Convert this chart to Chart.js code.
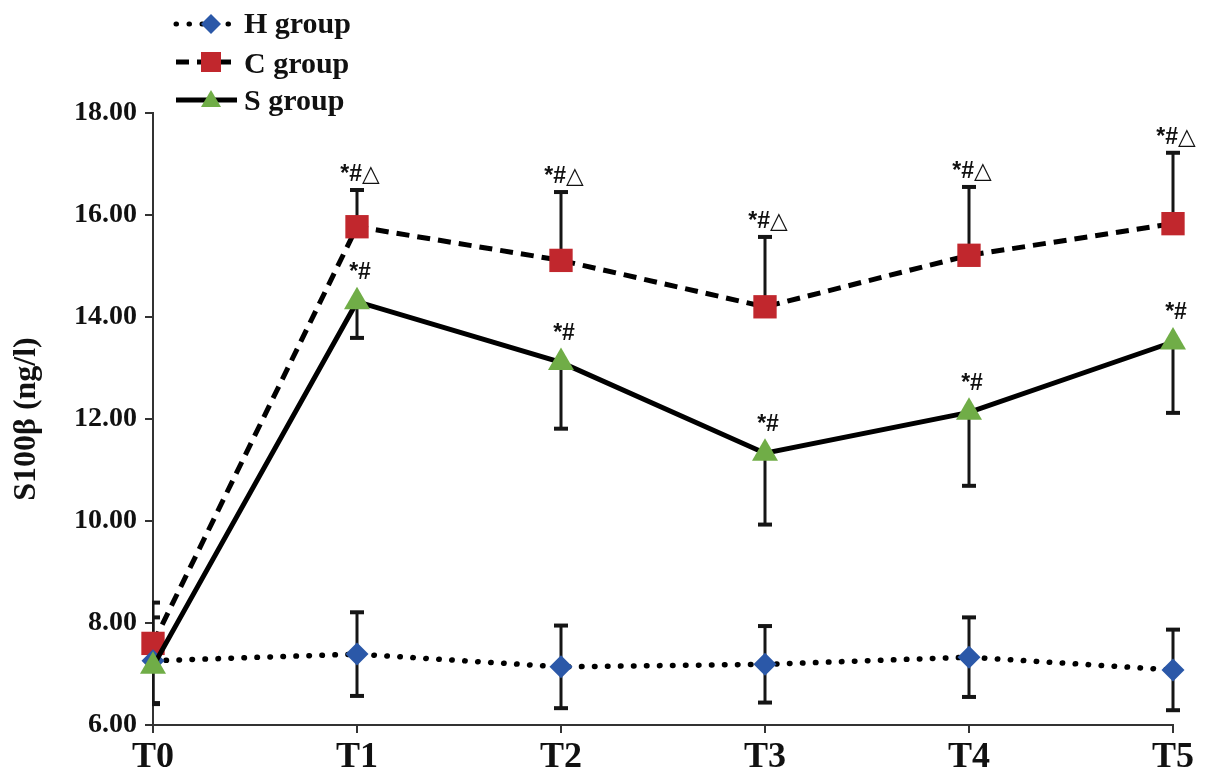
<!DOCTYPE html>
<html>
<head>
<meta charset="utf-8">
<title>S100β by group</title>
<script src="https://cdn.jsdelivr.net/npm/chart.js@4.4.1/dist/chart.umd.min.js"></script>
<style>
  body { margin: 0; background: #fff; }
  #wrap { width: 1205px; height: 782px; position: relative; }
</style>
</head>
<body>
<div id="wrap"><canvas id="s100"></canvas></div>
<script>
// time points and group values (mean, sd)
var times = ['T0', 'T1', 'T2', 'T3', 'T4', 'T5'];
var hMean = [7.26, 7.39, 7.14, 7.19, 7.33, 7.08];
var hSD   = [0.85, 0.82, 0.81, 0.75, 0.78, 0.79];
var cMean = [7.60, 15.77, 15.11, 14.20, 15.21, 15.83];
var cSD   = [0.80, 0.72, 1.34, 1.37, 1.34, 1.39];
var sMean = [7.15, 14.30, 13.11, 11.33, 12.13, 13.51];
var sSD   = [0.72, 0.71, 1.30, 1.40, 1.44, 1.39];
// significance marks
var cMarks = ['', '*#△', '*#△', '*#△', '*#△', '*#△'];
var sMarks = ['', '*#', '*#', '*#', '*#', '*#'];
var yMin = 6, yMax = 18, yStep = 2;

var serif = "'Liberation Serif', 'Times New Roman', serif";

// error bars, drawn under the markers
var errorBars = {
  id: 'errorBars',
  beforeDatasetsDraw: function(chart) {
    var ctx = chart.ctx, area = chart.chartArea, y = chart.scales.y;
    ctx.save();
    ctx.beginPath();
    ctx.rect(area.left - 1, 0, chart.width, chart.height);
    ctx.clip();
    ctx.strokeStyle = '#151515';
    chart.data.datasets.forEach(function(ds, di) {
      var meta = chart.getDatasetMeta(di);
      ds.errors.forEach(function(sd, i) {
        var pt = meta.data[i];
        var ends = [];
        if (ds.errorDir != 'down') ends.push(y.getPixelForValue(ds.data[i] + sd));
        if (ds.errorDir != 'up') ends.push(y.getPixelForValue(ds.data[i] - sd));
        ends.forEach(function(ey) {
          ctx.lineWidth = 3;
          ctx.beginPath();
          ctx.moveTo(pt.x, pt.y);
          ctx.lineTo(pt.x, ey);
          ctx.stroke();
          ctx.lineWidth = 4;
          ctx.beginPath();
          ctx.moveTo(pt.x - 7, ey);
          ctx.lineTo(pt.x + 7, ey);
          ctx.stroke();
        });
      });
    });
    ctx.restore();
  }
};

// *# / *#△ marks above points
var sigMarks = {
  id: 'sigMarks',
  afterDatasetsDraw: function(chart) {
    var ctx = chart.ctx, y = chart.scales.y;
    ctx.save();
    ctx.fillStyle = '#111';
    ctx.textAlign = 'center';
    ctx.textBaseline = 'middle';
    ctx.font = "bold 23px 'Liberation Sans', 'DejaVu Sans', sans-serif";
    chart.data.datasets.forEach(function(ds, di) {
      if (!ds.marks) return;
      var meta = chart.getDatasetMeta(di);
      ds.marks.forEach(function(m, i) {
        if (!m) return;
        var pt = meta.data[i];
        var ty;
        if (ds.markAt == 'error') ty = y.getPixelForValue(ds.data[i] + ds.errors[i]) - 15;
        else ty = pt.y - 29;
        ctx.fillText(m, pt.x + 3, ty);
      });
    });
    ctx.restore();
  }
};

function legendMarker(ctx, style, color, x, y) {
  ctx.fillStyle = color;
  ctx.beginPath();
  if (style == 'rectRot') {
    ctx.moveTo(x, y - 10); ctx.lineTo(x + 10, y); ctx.lineTo(x, y + 10); ctx.lineTo(x - 10, y);
  } else if (style == 'rect') {
    ctx.rect(x - 10, y - 10, 20, 20);
  } else {
    ctx.moveTo(x, y - 10); ctx.lineTo(x + 10, y + 7); ctx.lineTo(x - 10, y + 7);
  }
  ctx.closePath();
  ctx.fill();
}

// legend in the top-left corner, line + marker + label
var cornerLegend = {
  id: 'cornerLegend',
  afterDraw: function(chart) {
    var ctx = chart.ctx;
    var rows = [[0, 24, 33], [1, 62, 73], [2, 100, 110]];
    ctx.save();
    rows.forEach(function(r) {
      var ds = chart.data.datasets[r[0]];
      ctx.strokeStyle = '#000';
      ctx.lineWidth = 5;
      ctx.lineCap = ds.borderCapStyle || 'butt';
      ctx.setLineDash(ds.borderDash || []);
      ctx.beginPath();
      ctx.moveTo(176, r[1]);
      ctx.lineTo(237, r[1]);
      ctx.stroke();
      ctx.setLineDash([]);
      legendMarker(ctx, ds.pointStyle, ds.pointBackgroundColor, 211, r[1]);
      ctx.fillStyle = '#111';
      ctx.font = 'bold 30px ' + serif;
      ctx.textBaseline = 'alphabetic';
      ctx.fillText(ds.label, 244, r[2]);
    });
    ctx.restore();
  }
};

var ctx = document.getElementById('s100').getContext('2d');
window.s100Chart = new Chart(ctx, {
  type: 'line',
  data: {
    labels: times,
    datasets: [{
      label: 'H group',
      data: hMean,
      errors: hSD,
      errorDir: 'both',
      borderColor: '#000',
      borderWidth: 5.5,
      borderDash: [0.5, 12.5],
      borderCapStyle: 'round',
      pointStyle: 'rectRot',
      pointRadius: 11.5,
      pointBorderWidth: 0,
      pointBackgroundColor: '#2b58a8',
      pointBorderColor: '#2b58a8',
      tension: 0,
      clip: false,
      order: 1
    }, {
      label: 'C group',
      data: cMean,
      errors: cSD,
      errorDir: 'up',
      marks: cMarks,
      markAt: 'error',
      borderColor: '#000',
      borderWidth: 5,
      borderDash: [13, 8],
      pointStyle: 'rect',
      pointRadius: 16.5,
      pointBorderWidth: 0,
      pointBackgroundColor: '#c1272d',
      pointBorderColor: '#c1272d',
      tension: 0,
      clip: false,
      order: 2
    }, {
      label: 'S group',
      data: sMean,
      errors: sSD,
      errorDir: 'down',
      marks: sMarks,
      markAt: 'point',
      borderColor: '#000',
      borderWidth: 5,
      pointStyle: 'triangle',
      pointRadius: 15,
      pointBorderWidth: 0,
      pointBackgroundColor: '#70ad47',
      pointBorderColor: '#70ad47',
      tension: 0,
      clip: false,
      order: 0
    }]
  },
  options: {
    responsive: true,
    maintainAspectRatio: false,
    animation: false,
    layout: { padding: { left: 0, right: 32, top: 113, bottom: 0 } },
    plugins: {
      legend: { display: false },
      tooltip: { enabled: false }
    },
    scales: {
      x: {
        type: 'category',
        offset: false,
        afterFit: function(scale) { scale.height = 57; },
        grid: { display: true, drawOnChartArea: false, drawTicks: true, tickLength: 8, lineWidth: 2, color: '#333' },
        border: { display: true, color: '#333', width: 2 },
        ticks: { color: '#111', padding: 3, font: { family: serif, size: 36, weight: 'bold' } }
      },
      y: {
        min: yMin,
        max: yMax,
        afterFit: function(scale) { scale.width = 153; },
        grid: { display: true, drawOnChartArea: false, drawTicks: true, tickLength: 8, lineWidth: 2, color: '#333' },
        border: { display: true, color: '#333', width: 2 },
        ticks: {
          stepSize: yStep,
          color: '#111',
          padding: 8,
          font: { family: serif, size: 28, weight: 'bold' },
          callback: function(v) { return v.toFixed(2); }
        },
        title: {
          display: true,
          text: 'S100β (ng/l)',
          color: '#111',
          padding: { top: 8, bottom: 0 },
          font: { family: serif, size: 32, weight: 'bold' }
        }
      }
    }
  },
  plugins: [errorBars, sigMarks, cornerLegend]
});
</script>
</body>
</html>
